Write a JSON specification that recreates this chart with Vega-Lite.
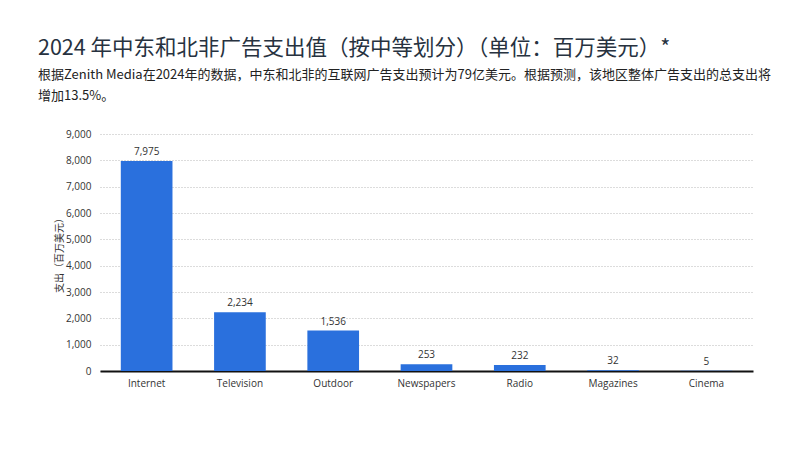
{
  "$schema": "https://vega.github.io/schema/vega-lite/v6.json",
  "autosize": "none",
  "width": 653,
  "height": 237,
  "padding": {"left": 100, "top": 134, "right": 49, "bottom": 80},
  "background": "white",
  "title": {
    "text": "2024 年中东和北非广告支出值（按中等划分）（单位：百万美元）*",
    "subtitle": ["根据Zenith Media在2024年的数据，中东和北非的互联网广告支出预计为79亿美元。根据预测，该地区整体广告支出的总支出将", "增加13.5%。"],
    "anchor": "start",
    "frame": "group",
    "dx": -62,
    "offset": 26,
    "font": "Noto Sans CJK SC",
    "fontSize": 21.5,
    "fontWeight": "normal",
    "color": "#27323f",
    "subtitleFont": "Noto Sans CJK SC",
    "subtitleFontSize": 13,
    "subtitleColor": "#222222",
    "subtitleLineHeight": 21,
    "subtitlePadding": 10
  },
  "data": {
    "values": [
      {"media": "Internet", "spend": 7975},
      {"media": "Television", "spend": 2234},
      {"media": "Outdoor", "spend": 1536},
      {"media": "Newspapers", "spend": 253},
      {"media": "Radio", "spend": 232},
      {"media": "Magazines", "spend": 32},
      {"media": "Cinema", "spend": 5}
    ]
  },
  "encoding": {
    "x": {
      "field": "media",
      "type": "nominal",
      "sort": null,
      "scale": {"paddingInner": 0.446, "paddingOuter": 0.223},
      "axis": {
        "title": null,
        "labelAngle": 0,
        "labelFont": "Open Sans",
        "labelFontSize": 10,
        "labelColor": "#333333",
        "labelPadding": 7,
        "ticks": false,
        "domainColor": "#111111",
        "domainWidth": 2
      }
    },
    "y": {
      "field": "spend",
      "type": "quantitative",
      "scale": {"domain": [0, 9000], "nice": false},
      "axis": {
        "title": "支出（百万美元）",
        "titleFont": "Noto Sans CJK SC",
        "titleFontSize": 10,
        "titleFontWeight": "normal",
        "titleColor": "#333333",
        "titlePadding": 1,
        "values": [0, 1000, 2000, 3000, 4000, 5000, 6000, 7000, 8000, 9000],
        "format": ",d",
        "labelFont": "Open Sans",
        "labelFontSize": 10,
        "labelColor": "#333333",
        "labelPadding": 9,
        "ticks": false,
        "domain": false,
        "grid": true,
        "gridColor": "#b8b8b8",
        "gridDash": [1, 2],
        "gridWidth": 1
      }
    }
  },
  "layer": [
    {"mark": {"type": "bar", "color": "#2a70dd"}},
    {
      "mark": {"type": "text", "baseline": "bottom", "dy": -4, "font": "Open Sans", "fontSize": 10, "color": "#333333"},
      "encoding": {"text": {"field": "spend", "type": "quantitative", "format": ","}}
    }
  ],
  "config": {"view": {"stroke": null}}
}
